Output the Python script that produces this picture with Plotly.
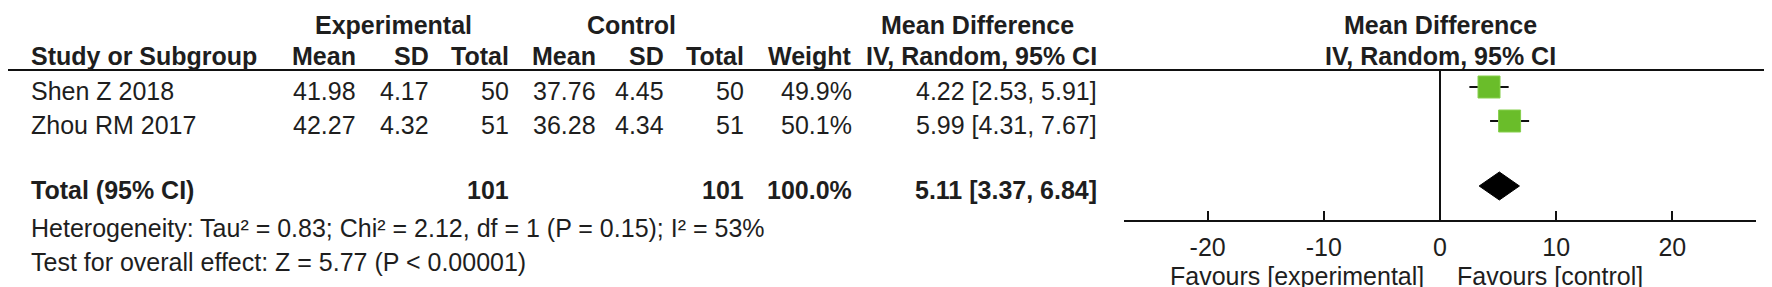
import plotly.graph_objects as go

# ---------------- data ----------------
studies = ["Shen Z 2018", "Zhou RM 2017"]
exp_mean = [41.98, 42.27]
exp_sd = [4.17, 4.32]
exp_n = [50, 51]
ctl_mean = [37.76, 36.28]
ctl_sd = [4.45, 4.34]
ctl_n = [50, 51]
weight = [49.9, 50.1]
md = [4.22, 5.99]
ci_lo = [2.53, 4.31]
ci_hi = [5.91, 7.67]

total_label = "Total (95% CI)"
total_exp_n = 101
total_ctl_n = 101
total_weight = 100.0
total_md = 5.11
total_lo = 3.37
total_hi = 6.84

heterogeneity = "Heterogeneity: Tau² = 0.83; Chi² = 2.12, df = 1 (P = 0.15); I² = 53%"
overall = "Test for overall effect: Z = 5.77 (P < 0.00001)"

tick_vals = [-20, -10, 0, 10, 20]
tick_text = ["-20", "-10", "0", "10", "20"]
axis_range = [-27.2, 27.2]
favours_left = "Favours [experimental]"
favours_right = "Favours [control]"

# ---------------- layout constants ----------------
W, H = 1772, 287
FONT = "Liberation Sans, Arial, sans-serif"
FS = 25
FSB = 25
TXT = "#1e1e1e"
GREEN = "#6abd2a"

row_y = [83, 117]
total_y = 182
het_y = 220
test_y = 254
hdr1_y = 17
hdr2_y = 48
line_y = 62
axis_y = 213
mark_dy = -4

col_right = {
    "mean_e": 350, "sd_e": 423, "n_e": 503,
    "mean_c": 590, "sd_c": 658, "n_c": 738,
    "w": 846, "ci": 1091,
}
left_x = 21
forest_l, forest_r = 1116, 1748


def px(x):
    return x / W


annotations = []


def txt(x, y, s, anchor="right", bold=False):
    annotations.append(dict(
        x=px(x), y=y, xref="paper", yref="y", text=("<b>%s</b>" % s) if bold else s,
        showarrow=False, xanchor=anchor, yanchor="middle",
        font=dict(family=FONT, size=FSB if bold else FS, color=TXT),
    ))


# headers
txt(385, hdr1_y, "Experimental", "center", True)
txt(623, hdr1_y, "Control", "center", True)
txt(970, hdr1_y, "Mean Difference", "center", True)
txt(1432, hdr1_y, "Mean Difference", "center", True)
txt(1432, hdr2_y, "IV, Random, 95% CI", "center", True)
txt(left_x, hdr2_y, "Study or Subgroup", "left", True)
for key, lab in [("mean_e", "Mean"), ("sd_e", "SD"), ("n_e", "Total"),
                 ("mean_c", "Mean"), ("sd_c", "SD"), ("n_c", "Total"),
                 ("w", "Weight"), ("ci", "IV, Random, 95% CI")]:
    txt(col_right[key], hdr2_y, lab, "right", True)

# study rows
for i, s in enumerate(studies):
    y = row_y[i]
    txt(left_x, y, s, "left")
    txt(col_right["mean_e"], y, f"{exp_mean[i]:.2f}")
    txt(col_right["sd_e"], y, f"{exp_sd[i]:.2f}")
    txt(col_right["n_e"], y, f"{exp_n[i]}")
    txt(col_right["mean_c"], y, f"{ctl_mean[i]:.2f}")
    txt(col_right["sd_c"], y, f"{ctl_sd[i]:.2f}")
    txt(col_right["n_c"], y, f"{ctl_n[i]}")
    txt(col_right["w"], y, f"{weight[i]:.1f}%")
    txt(col_right["ci"], y, f"{md[i]:.2f} [{ci_lo[i]:.2f}, {ci_hi[i]:.2f}]")

# total row
txt(left_x, total_y, total_label, "left", True)
txt(col_right["n_e"], total_y, f"{total_exp_n}", "right", True)
txt(col_right["n_c"], total_y, f"{total_ctl_n}", "right", True)
txt(col_right["w"], total_y, f"{total_weight:.1f}%", "right", True)
txt(col_right["ci"], total_y, f"{total_md:.2f} [{total_lo:.2f}, {total_hi:.2f}]", "right", True)
txt(left_x, het_y, heterogeneity, "left")
txt(left_x, test_y, overall, "left")

# favours labels
txt(1418, 268, favours_left, "right")
txt(1447, 268, favours_right, "left")

fig = go.Figure()

# study squares with CI whiskers
fig.add_trace(go.Scatter(
    x=md, y=[y + mark_dy for y in row_y], mode="markers",
    marker=dict(symbol="square", size=22, color=GREEN, line=dict(color="#86cf4c", width=1)),
    error_x=dict(type="data", symmetric=False,
                 array=[h - m for h, m in zip(ci_hi, md)],
                 arrayminus=[m - l for m, l in zip(md, ci_lo)],
                 thickness=2, width=0, color="#111111"),
    hoverinfo="skip",
))

# pooled diamond
dh = 14
dy = total_y + mark_dy
fig.add_trace(go.Scatter(
    x=[total_lo, total_md, total_hi, total_md, total_lo],
    y=[dy, dy - dh, dy, dy + dh, dy],
    mode="lines", fill="toself", fillcolor="#000000",
    line=dict(color="#000000", width=1), hoverinfo="skip",
))

shapes = [
    dict(type="line", xref="paper", yref="y", x0=0, x1=1, y0=line_y, y1=line_y,
         line=dict(color="#111111", width=2)),
    dict(type="line", xref="x", yref="y", x0=0, x1=0, y0=line_y, y1=axis_y,
         line=dict(color="#111111", width=2)),
]

fig.update_layout(
    width=W, height=H, margin=dict(l=0, r=0, t=0, b=0),
    paper_bgcolor="white", plot_bgcolor="rgba(0,0,0,0)",
    showlegend=False, template="none",
    annotations=annotations, shapes=shapes,
    xaxis=dict(domain=[px(forest_l), px(forest_r)], range=axis_range,
               anchor="free", position=(H - axis_y) / H,
               showline=True, linecolor="#111111", linewidth=2,
               ticks="inside", ticklen=9, tickwidth=2, tickcolor="#111111",
               tickvals=tick_vals, ticktext=tick_text,
               tickfont=dict(family=FONT, size=FS, color=TXT),
               ticklabelstandoff=4,
               showgrid=False, zeroline=False, automargin=False, fixedrange=True),
    yaxis=dict(range=[H, 0], visible=False, showgrid=False, zeroline=False,
               automargin=False, fixedrange=True),
)

fig.write_html("out.html")
